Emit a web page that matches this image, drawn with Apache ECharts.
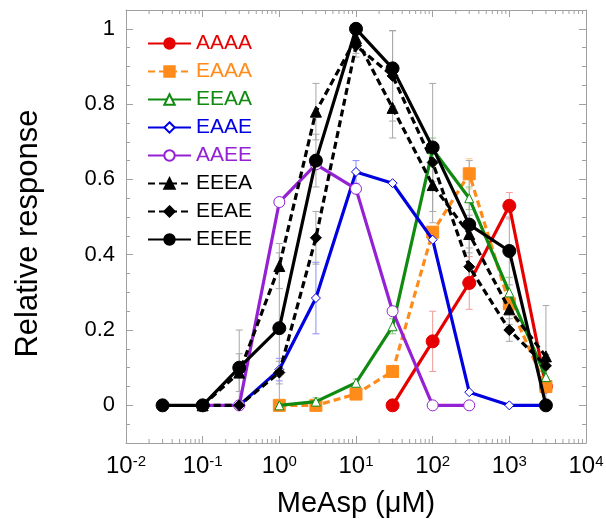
<!DOCTYPE html>
<html><head><meta charset="utf-8">
<script src="https://cdn.jsdelivr.net/npm/echarts@6/dist/echarts.min.js"></script>
<style>html,body{margin:0;padding:0;background:#fff}#c{width:606px;height:519px}</style>
</head><body><div id="c"></div>
<script>
// ---- data (concentration in µM, relative response, error) ----
const AAAA_X = [30, 100, 300, 1000, 3000];
const AAAA_Y = [0, 0.17, 0.325, 0.53, 0.05];
const AAAA_E = [0, 0.08, 0.07, 0.035, 0];

const EAAA_X = [1, 3, 10, 30, 100, 300, 1000, 3000];
const EAAA_Y = [0, 0, 0.03, 0.09, 0.46, 0.615, 0.27, 0.05];
const EAAA_E = [0, 0, 0, 0, 0, 0.04, 0, 0];

const EEAA_X = [1, 3, 10, 30, 100, 300, 1000, 3000];
const EEAA_Y = [0, 0.01, 0.06, 0.21, 0.68, 0.55, 0.30, 0.075];
const EEAA_E = [0, 0.01, 0.01, 0.02, 0.03, 0.03, 0.04, 0.02];

const EAAE_X = [0.3, 1, 3, 10, 30, 100, 300, 1000, 3000];
const EAAE_Y = [0, 0.095, 0.285, 0.62, 0.59, 0.44, 0.035, 0, 0];
const EAAE_E = [0, 0.03, 0.095, 0.03, 0, 0, 0, 0, 0];

const AAEE_X = [0.1, 0.3, 1, 3, 10, 30, 100, 300];
const AAEE_Y = [0, 0, 0.54, 0.64, 0.575, 0.25, 0, 0];
const AAEE_E = [0, 0, 0, 0, 0, 0, 0, 0];

const EEEA_X = [0.1, 0.3, 1, 3, 10, 30, 100, 300, 1000, 3000];
const EEEA_Y = [0, 0.087, 0.37, 0.78, 0.975, 0.79, 0.585, 0.455, 0.255, 0.13];
const EEEA_E = [0, 0.05, 0.06, 0.075, 0.04, 0.08, 0.1, 0.05, 0.04, 0.135];

const EEAE_X = [0.1, 0.3, 1, 3, 10, 30, 100, 300, 1000, 3000];
const EEAE_Y = [0, 0, 0.087, 0.445, 0.955, 0.875, 0.645, 0.368, 0.2, 0.105];
const EEAE_E = [0, 0, 0.03, 0.07, 0.03, 0.12, 0.05, 0.05, 0.03, 0.03];

const EEEE_X = [0.03, 0.1, 0.3, 1, 3, 10, 30, 100, 300, 1000, 3000];
const EEEE_Y = [0, 0, 0.1, 0.205, 0.65, 1.0, 0.895, 0.685, 0.48, 0.41, 0];
const EEEE_E = [0, 0, 0.1, 0.2, 0.07, 0, 0.1, 0.17, 0.17, 0.09, 0];

const NAMES = ['AAAA', 'EAAA', 'EEAA', 'EAAE', 'AAEE', 'EEEA', 'EEAE', 'EEEE'];
const XS = [AAAA_X, EAAA_X, EEAA_X, EAAE_X, AAEE_X, EEEA_X, EEAE_X, EEEE_X];
const YS = [AAAA_Y, EAAA_Y, EEAA_Y, EAAE_Y, AAEE_Y, EEEA_Y, EEAE_Y, EEEE_Y];
const ES = [AAAA_E, EAAA_E, EEAA_E, EAAE_E, AAEE_E, EEEA_E, EEAE_E, EEEE_E];

// ---- ticks ----
const X_MIN = 0.01, X_MAX = 10000;
const X_DECADES = [0.01, 0.1, 1, 10, 100, 1000];
const X_MINOR_MULT = [2, 3, 4, 5, 6, 7, 8, 9];
const Y_MIN = -0.1, Y_MAX = 1.05;
const Y_LABELS = [0, 0.2, 0.4, 0.6, 0.8, 1];
const Y_MINOR = [-0.05, 0.05, 0.1, 0.15, 0.25, 0.3, 0.35, 0.45, 0.5, 0.55, 0.65, 0.7, 0.75, 0.85, 0.9, 0.95];

// ---- styles ----
const FONT = 'Liberation Sans, Arial, sans-serif';
const COLORS = ['#e60000', '#ff8c1a', '#118a11', '#0000e0', '#9422d4', '#000000', '#000000', '#000000'];
const ERR_COLORS = ['#f29a9a', '#ffc890', '#8cc88c', '#8c8cff', '#cfa0ea', '#a8a8a8', '#a8a8a8', '#a8a8a8'];
const SYMBOLS = ['circle', 'rect', 'triangle', 'diamond', 'circle', 'triangle', 'diamond', 'circle'];
const SIZES = [13, 12, 9, 9, 11, 11, 11, 13];
const HOLLOW = [false, false, true, true, true, false, false, false];
const DASHED = [false, true, false, false, false, true, true, false];
const AXIS_COLOR = '#a0a0a0';

const minorX = [];
X_DECADES.forEach(d => X_MINOR_MULT.forEach(m => minorX.push([d * m, 0])));

const series = [];
NAMES.forEach((n, k) => {
  const col = ERR_COLORS[k];
  series.push({
    type: 'custom', name: n + ' err', silent: true, z: 1,
    data: XS[k].map((x, i) => [x, YS[k][i], ES[k][i]]).filter(d => d[2] > 0),
    encode: { x: 0, y: 1 },
    renderItem: (params, api) => {
      const x = api.value(0), y = api.value(1), e = api.value(2);
      const t = api.coord([x, y + e]), b = api.coord([x, Math.max(y - e, Y_MIN)]);
      const w = 3.5;
      const st = { stroke: col, lineWidth: 1 };
      return { type: 'group', children: [
        { type: 'line', shape: { x1: t[0], y1: t[1], x2: b[0], y2: b[1] }, style: st },
        { type: 'line', shape: { x1: t[0] - w, y1: t[1], x2: t[0] + w, y2: t[1] }, style: st },
        { type: 'line', shape: { x1: b[0] - w, y1: b[1], x2: b[0] + w, y2: b[1] }, style: st }
      ]};
    }
  });
});
NAMES.forEach((n, k) => {
  series.push({
    type: 'line', name: n, z: 3 + k,
    data: XS[k].map((x, i) => [x, YS[k][i]]),
    symbol: SYMBOLS[k], symbolSize: SIZES[k], showAllSymbol: true,
    lineStyle: { color: COLORS[k], width: 3.2, type: DASHED[k] ? [7, 4] : 'solid' },
    itemStyle: { color: HOLLOW[k] ? '#ffffff' : COLORS[k], borderColor: COLORS[k], borderWidth: 1 },
    emphasis: { disabled: true }
  });
});
// minor log ticks on bottom and top
series.push({
  type: 'custom', name: 'minor ticks', silent: true, z: 0,
  data: minorX, encode: { x: 0, y: 1 },
  renderItem: (params, api) => {
    const p = api.coord([api.value(0), 0]);
    const cs = params.coordSys;
    const st = { stroke: AXIS_COLOR, lineWidth: 1 };
    return { type: 'group', children: [
      { type: 'line', shape: { x1: p[0], y1: cs.y + cs.height, x2: p[0], y2: cs.y + cs.height - 4 }, style: st },
      { type: 'line', shape: { x1: p[0], y1: cs.y, x2: p[0], y2: cs.y + 4 }, style: st }
    ]};
  }
});

const xBase = {
  type: 'log', logBase: 10, min: X_MIN, max: X_MAX,
  axisLine: { show: true, onZero: false, lineStyle: { color: AXIS_COLOR, width: 1 } },
  axisTick: { show: true, inside: true, length: 7, lineStyle: { color: AXIS_COLOR } },
  splitLine: { show: false }
};
const yBase = {
  type: 'value', min: Y_MIN, max: Y_MAX,
  axisLine: { show: true, onZero: false, lineStyle: { color: AXIS_COLOR, width: 1 } },
  splitLine: { show: false }
};

const option = {
  animation: false,
  backgroundColor: '#fff',
  grid: { left: 126, right: 20, top: 10, bottom: 76, containLabel: false, outerBoundsMode: 'none' },
  xAxis: [
    Object.assign({}, xBase, {
      position: 'bottom',
      name: 'MeAsp (μM)', nameLocation: 'middle', nameGap: 46,
      nameTextStyle: { fontSize: 29, color: '#000', fontFamily: FONT },
      axisLabel: {
        margin: 11,
        formatter: v => '{b|10}{s|' + Math.round(Math.log10(v)) + '}',
        rich: {
          b: { fontSize: 24, color: '#000', fontFamily: FONT },
          s: { fontSize: 15, color: '#000', fontFamily: FONT, verticalAlign: 'top', padding: [0, 0, 2, 0] }
        }
      }
    }),
    Object.assign({}, xBase, { position: 'top', axisLabel: { show: false } })
  ],
  yAxis: [
    Object.assign({}, yBase, {
      position: 'left',
      name: 'Relative response', nameLocation: 'middle', nameGap: 82,
      nameTextStyle: { fontSize: 31, color: '#000', fontFamily: FONT, padding: [0, 14, 0, 0] },
      axisLabel: { customValues: Y_LABELS, margin: 11, fontSize: 22, color: '#000', fontFamily: FONT,
        formatter: v => String(Math.round(v * 10) / 10) },
      axisTick: { customValues: Y_LABELS, inside: true, length: 7, lineStyle: { color: AXIS_COLOR } }
    }),
    Object.assign({}, yBase, {
      position: 'left', axisLine: { show: false }, axisLabel: { show: false },
      axisTick: { customValues: Y_MINOR, inside: true, length: 4, lineStyle: { color: AXIS_COLOR } }
    }),
    Object.assign({}, yBase, {
      position: 'right', axisLabel: { show: false },
      axisTick: { customValues: Y_LABELS, inside: true, length: 7, lineStyle: { color: AXIS_COLOR } }
    }),
    Object.assign({}, yBase, {
      position: 'right', axisLine: { show: false }, axisLabel: { show: false },
      axisTick: { customValues: Y_MINOR, inside: true, length: 4, lineStyle: { color: AXIS_COLOR } }
    })
  ],
  legend: {
    orient: 'vertical', left: 147, top: 33, padding: 0,
    itemWidth: 43, itemHeight: 13, itemGap: 7,
    textStyle: { fontSize: 21, lineHeight: 20, fontFamily: FONT },
    data: NAMES.map((n, i) => ({ name: n, textStyle: { color: COLORS[i] } }))
  },
  series: series
};
const chart = echarts.init(document.getElementById('c'), null, { renderer: 'canvas' });
chart.setOption(option);
</script></body></html>
